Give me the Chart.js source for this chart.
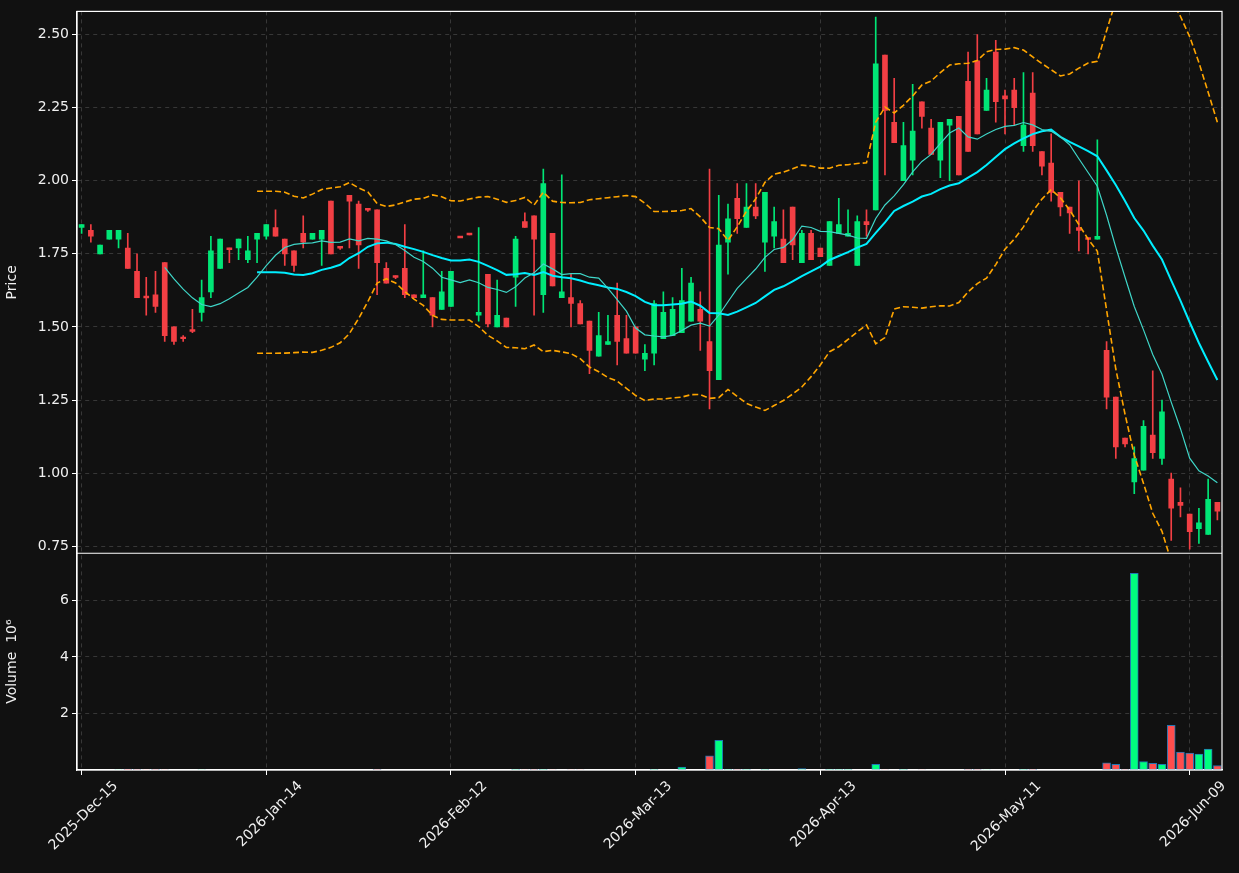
<!DOCTYPE html>
<html>
<head>
<meta charset="utf-8">
<script src="https://cdn.jsdelivr.net/npm/chart.js@4"></script>
<style>
  html, body { margin: 0; padding: 0; background: #111111; }
  canvas { display: block; }
</style>
</head>
<body>
<canvas id="chart" width="1239" height="873"></canvas>
<script>
// OHLC, one entry per trading day
const opens = [1.84,1.83,1.75,1.80,1.80,1.77,1.69,1.605,1.61,1.72, 1.50,1.465,1.49,1.55,1.62,1.70,1.77,1.77,1.73,1.80,
  1.81,1.84,1.80,1.76,1.82,1.80,1.80,1.93,1.775,1.95, 1.92,1.905,1.90,1.70,1.675,1.70,1.61,1.60,1.60,1.56,
  1.57,1.81,1.82,1.54,1.68,1.50,1.53,1.67,1.86,1.88, 1.61,1.82,1.60,1.60,1.58,1.52,1.40,1.44,1.54,1.46,
  1.50,1.39,1.41,1.46,1.47,1.48,1.52,1.56,1.45,1.32, 1.79,1.94,1.84,1.91,1.79,1.81,1.80,1.91,1.72,1.82,
  1.77,1.71,1.82,1.81,1.71,1.86,1.90,2.43,2.20,2.00, 2.07,2.27,2.18,2.07,2.19,2.22,2.34,2.41,2.24,2.44,
  2.29,2.31,2.12,2.30,2.10,2.06,1.96,1.91,1.84,1.805, 1.80,1.42,1.26,1.12,0.97,1.01,1.13,1.05,0.98,0.90,
  0.86,0.81,0.79,0.90];
const highs = [1.85,1.85,1.78,1.83,1.83,1.82,1.75,1.67,1.69,1.72, 1.50,1.47,1.56,1.66,1.81,1.80,1.77,1.80,1.81,1.82,
  1.85,1.90,1.80,1.76,1.88,1.82,1.83,1.93,1.775,1.95, 1.93,1.905,1.90,1.72,1.675,1.85,1.61,1.76,1.60,1.69,
  1.69,1.81,1.82,1.84,1.68,1.66,1.53,1.81,1.89,1.88, 2.04,1.82,2.02,1.68,1.59,1.52,1.55,1.54,1.65,1.54,
  1.50,1.44,1.59,1.62,1.60,1.70,1.67,1.62,2.04,1.95, 1.92,1.99,1.99,1.99,1.96,1.91,1.90,1.91,1.83,1.83,
  1.77,1.86,1.94,1.90,1.88,1.90,2.56,2.43,2.35,2.20, 2.33,2.27,2.21,2.20,2.21,2.22,2.44,2.50,2.35,2.48,
  2.31,2.35,2.37,2.37,2.10,2.16,1.96,1.91,2.00,1.805, 2.14,1.45,1.26,1.12,1.09,1.18,1.35,1.25,1.00,0.95,
  0.86,0.88,0.98,0.90];
const lows = [1.82,1.79,1.75,1.80,1.77,1.70,1.60,1.54,1.55,1.45, 1.44,1.45,1.48,1.52,1.60,1.70,1.72,1.73,1.72,1.72,
  1.80,1.81,1.71,1.69,1.77,1.80,1.71,1.75,1.765,1.77, 1.70,1.895,1.61,1.65,1.665,1.60,1.60,1.60,1.50,1.56,
  1.57,1.805,1.815,1.52,1.50,1.50,1.50,1.57,1.84,1.54, 1.55,1.64,1.60,1.50,1.51,1.34,1.40,1.44,1.37,1.41,
  1.41,1.35,1.37,1.46,1.47,1.48,1.52,1.42,1.22,1.32, 1.68,1.82,1.84,1.87,1.69,1.77,1.72,1.73,1.72,1.73,
  1.74,1.71,1.82,1.81,1.71,1.81,1.90,2.02,2.13,2.00, 2.02,2.18,2.09,2.01,2.00,2.02,2.10,2.16,2.24,2.20,
  2.16,2.19,2.10,2.10,2.02,1.93,1.88,1.82,1.76,1.75, 1.80,1.22,1.05,1.09,0.93,1.01,1.05,1.03,0.77,0.85,
  0.74,0.76,0.79,0.84];
const closes = [1.85,1.81,1.78,1.83,1.83,1.70,1.60,1.60,1.57,1.47, 1.45,1.46,1.485,1.60,1.76,1.80,1.765,1.80,1.76,1.82,
  1.85,1.81,1.75,1.71,1.79,1.82,1.83,1.75,1.77,1.93, 1.78,1.90,1.72,1.65,1.67,1.61,1.60,1.61,1.54,1.62,
  1.69,1.805,1.815,1.55,1.51,1.54,1.50,1.80,1.84,1.80, 1.99,1.64,1.62,1.58,1.51,1.42,1.47,1.45,1.45,1.41,
  1.41,1.41,1.58,1.55,1.56,1.59,1.65,1.52,1.35,1.78, 1.87,1.87,1.91,1.88,1.96,1.86,1.72,1.78,1.82,1.73,
  1.74,1.86,1.85,1.82,1.86,1.85,2.40,2.24,2.13,2.12, 2.17,2.22,2.09,2.20,2.21,2.02,2.10,2.16,2.31,2.27,
  2.28,2.25,2.19,2.12,2.05,1.96,1.91,1.89,1.83,1.80, 1.81,1.26,1.09,1.10,1.05,1.16,1.07,1.21,0.88,0.89,
  0.80,0.83,0.91,0.87];
// volume in millions
const volumes = [0,0,0,0,0.01,0.03,0.02,0.01,0.02,0.01, 0,0,0,0.01,0,0,0,0,0,0,
  0,0,0,0,0,0,0,0,0,0, 0,0,0.02,0,0,0,0,0,0,0,
  0,0,0,0,0,0,0,0.02,0.01,0.02, 0.02,0.01,0,0.01,0.01,0,0,0,0,0,
  0,0,0.02,0,0,0.1,0,0,0.5,1.05, 0.02,0.02,0.02,0,0.02,0,0,0,0.05,0,
  0,0.02,0.02,0.02,0,0,0.2,0.01,0,0.02, 0,0.01,0,0,0,0,0.02,0.02,0.01,0,
  0,0,0.02,0.02,0,0,0,0,0,0, 0,0.25,0.2,0.02,6.96,0.3,0.24,0.2,1.58,0.63,
  0.6,0.56,0.74,0.16];
const tickEvery = 20;

const holidays = ['2025-12-25','2026-01-01','2026-01-19','2026-02-16','2026-04-03','2026-05-25'];
const monthNames = ['Jan','Feb','Mar','Apr','May','Jun','Jul','Aug','Sep','Oct','Nov','Dec'];
const dates = [];
let d = new Date(Date.UTC(2025, 11, 15));
while (dates.length < closes.length) {
    const iso = d.toISOString().slice(0, 10);
    const wd = d.getUTCDay();
    if (wd !== 0 && wd !== 6 && !holidays.includes(iso)) {
        dates.push(d.getUTCFullYear() + '-' + monthNames[d.getUTCMonth()] + '-' + iso.slice(8, 10));
    }
    d = new Date(d.getTime() + 86400000);
}

function movingAvg(n) {
    return closes.map((c, i) => {
        if (i < n - 1) return null;
        let s = 0;
        for (let k = i - n + 1; k <= i; k++) s += closes[k];
        return s / n;
    });
}
function band(sign) {
    const ma = movingAvg(20);
    return closes.map((c, i) => {
        if (i < 19) return null;
        let v = 0;
        for (let k = i - 19; k <= i; k++) v += (closes[k] - ma[i]) ** 2;
        return ma[i] + sign * 2 * Math.sqrt(v / 20);
    });
}

const UP = '#00e676', DOWN = '#f23f44';
const up = closes.map((c, i) => c >= opens[i]);
const candleColor = up.map(u => u ? UP : DOWN);
const volColor = up.map(u => u ? '#00ff7f' : '#ff4d4d');

const bodies = opens.map((o, i) => {
    const c = closes[i];
    if (Math.abs(c - o) < 0.006) { const m = (o + c) / 2; return [m - 0.003, m + 0.003]; }
    return [o, c];
});
const wicks = lows.map((l, i) => [l, highs[i]]);

Chart.defaults.font.family = 'DejaVu Sans';
Chart.defaults.font.size = 14;
Chart.defaults.color = '#f0f0f0';

new Chart(document.getElementById('chart'), {
    data: {
        labels: dates,
        datasets: [
            { type: 'line', label: 'MA10', data: movingAvg(10), borderColor: '#3fd6c8', borderWidth: 1.2, pointRadius: 0, yAxisID: 'y', order: 1 },
            { type: 'line', label: 'MA20', data: movingAvg(20), borderColor: '#00eeff', borderWidth: 2, pointRadius: 0, yAxisID: 'y', order: 1 },
            { type: 'line', label: 'Upper', data: band(1), borderColor: '#ffa500', borderWidth: 1.6, borderDash: [6, 3], pointRadius: 0, yAxisID: 'y', order: 1 },
            { type: 'line', label: 'Lower', data: band(-1), borderColor: '#ffa500', borderWidth: 1.6, borderDash: [6, 3], pointRadius: 0, yAxisID: 'y', order: 1 },
            { type: 'bar', label: 'Wick', data: wicks, backgroundColor: candleColor, barThickness: 1, grouped: false, yAxisID: 'y', order: 3 },
            { type: 'bar', label: 'Body', data: bodies, backgroundColor: candleColor, barThickness: 5, grouped: false, yAxisID: 'y', order: 2 },
            { type: 'bar', label: 'Volume', data: volumes, backgroundColor: volColor, borderColor: '#1f77b4', borderWidth: 1, borderSkipped: false, barThickness: 8, grouped: false, yAxisID: 'yv', order: 2 }
        ]
    },
    options: {
        responsive: false,
        animation: false,
        layout: { padding: { top: 10, right: 17, left: 0, bottom: 0 } },
        plugins: { legend: { display: false }, tooltip: { enabled: false } },
        scales: {
            x: {
                offset: true,
                grid: { offset: false, color: 'rgba(255,255,255,0.16)', tickColor: '#ffffff', tickLength: 5 },
                border: { color: '#ffffff', width: 1.2, dash: [4, 4] },
                ticks: {
                    autoSkip: false, maxRotation: 45, minRotation: 45, color: '#f0f0f0', labelOffset: 34,
                    callback: v => dates[v]
                },
                afterBuildTicks: s => { s.ticks = s.ticks.filter(t => t.value % tickEvery === 0); },
                afterFit: s => { s.height = 103; }
            },
            yv: {
                stack: 'panels', stackWeight: 1, min: 0, max: 7.67,
                grid: { color: 'rgba(255,255,255,0.16)', tickColor: '#ffffff', tickLength: 5 },
                border: { color: '#ffffff', width: 1.2, dash: [4, 4] },
                afterBuildTicks: s => { s.ticks = [2, 4, 6].map(v => ({ value: v })); },
                title: { display: true, text: 'Volume  10⁶', color: '#f0f0f0', font: { size: 14 } },
                afterFit: s => { s.width = 77; }
            },
            y: {
                stack: 'panels', stackWeight: 2.5, min: 0.726, max: 2.579,
                grid: { color: 'rgba(255,255,255,0.16)', tickColor: '#ffffff', tickLength: 5 },
                border: { color: '#ffffff', width: 1.2, dash: [4, 4] },
                ticks: { callback: v => v.toFixed(2) },
                afterBuildTicks: s => { s.ticks = [0.75, 1.0, 1.25, 1.5, 1.75, 2.0, 2.25, 2.5].map(v => ({ value: v })); },
                title: { display: true, text: 'Price', color: '#f0f0f0', font: { size: 14 } },
                afterFit: s => { s.width = 77; }
            }
        }
    },
    plugins: [{
        id: 'frame',
        afterDraw(chart) {
            const { ctx, chartArea: a } = chart;
            const p = chart.scales.y, v = chart.scales.yv;
            ctx.save();
            ctx.strokeStyle = '#ffffff';
            ctx.lineWidth = 1.2;
            ctx.strokeRect(a.left, a.top, a.right - a.left, a.bottom - a.top);
            ctx.beginPath();
            const mid = p.top > v.top ? p.top : p.bottom;
            ctx.moveTo(a.left, mid);
            ctx.lineTo(a.right, mid);
            ctx.stroke();
            ctx.restore();
        }
    }]
});
</script>
</body>
</html>
